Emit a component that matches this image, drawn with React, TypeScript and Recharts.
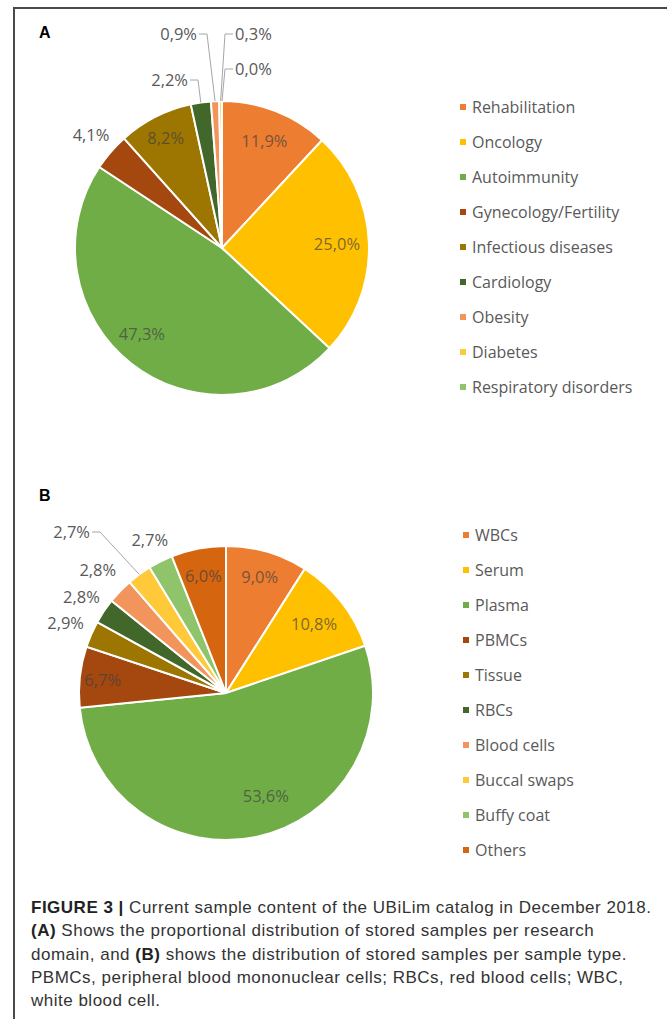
import React from "react";
import { Cell, Legend, Pie, PieChart } from "recharts";

// Panel A: stored samples per research domain (%)
const domainNames = [
  "Rehabilitation",
  "Oncology",
  "Autoimmunity",
  "Gynecology/Fertility",
  "Infectious diseases",
  "Cardiology",
  "Obesity",
  "Diabetes",
  "Respiratory disorders",
];
const domainShares = [11.9, 25.0, 47.3, 4.1, 8.2, 2.2, 0.9, 0.3, 0.0];

// Panel B: stored samples per sample type (%)
const sampleTypes = [
  "WBCs",
  "Serum",
  "Plasma",
  "PBMCs",
  "Tissue",
  "RBCs",
  "Blood cells",
  "Buccal swaps",
  "Buffy coat",
  "Others",
];
const sampleShares = [9.0, 10.8, 53.6, 6.7, 2.9, 2.8, 2.8, 2.7, 2.7, 6.0];

const domainColors = [
  "#ED7D31",
  "#FFC000",
  "#70AD47",
  "#A4480F",
  "#9C7600",
  "#41682A",
  "#F1955C",
  "#FFC93A",
  "#8FC46A",
];
const sampleColors = [
  "#ED7D31",
  "#FFC000",
  "#70AD47",
  "#A4480F",
  "#9C7600",
  "#41682A",
  "#F1955C",
  "#FFC93A",
  "#8FC46A",
  "#D6650F",
];

type LabelSpot =
  | { kind: "inside"; r: number; shift?: number }
  | { kind: "outside"; r: number }
  | { kind: "leader"; dx: number; dy: number; side: "left" | "right" };

const domainSpots: LabelSpot[] = [
  { kind: "inside", r: 116 },
  { kind: "inside", r: 115 },
  { kind: "inside", r: 117, shift: 5 },
  { kind: "outside", r: 173 },
  { kind: "inside", r: 124 },
  { kind: "leader", dx: -34, dy: -169, side: "left" },
  { kind: "leader", dx: -25, dy: -215, side: "left" },
  { kind: "leader", dx: 13, dy: -215, side: "right" },
  { kind: "leader", dx: 13, dy: -180, side: "right" },
];

const sampleSpots: LabelSpot[] = [
  { kind: "inside", r: 121 },
  { kind: "inside", r: 112 },
  { kind: "inside", r: 110, shift: -9 },
  { kind: "inside", r: 124 },
  { kind: "outside", r: 175 },
  { kind: "outside", r: 174 },
  { kind: "outside", r: 178 },
  { kind: "leader", dx: -136, dy: -162, side: "left" },
  { kind: "outside", r: 171 },
  { kind: "inside", r: 120 },
];

const RAD = Math.PI / 180;
const LABEL_FONT = "'Open Sans', 'Liberation Sans', sans-serif";
const LABEL_SIZE = 16.5;

const fmt = (v: number) => v.toFixed(1).replace(".", ",") + "%";

function makeLabel(spots: LabelSpot[]) {
  return (props: any) => {
    const { cx, cy, midAngle, outerRadius, index, value } = props;
    const spot = spots[index];
    const text = fmt(Number(value));
    if (spot.kind === "leader") {
      const ex = cx + outerRadius * Math.cos(-midAngle * RAD);
      const ey = cy + outerRadius * Math.sin(-midAngle * RAD);
      const tx = cx + spot.dx;
      const ty = cy + spot.dy;
      const dir = spot.side === "left" ? 1 : -1;
      const pts = `${ex},${ey} ${tx + dir * 10},${ty + 1} ${tx + dir * 2},${ty + 1}`;
      return (
        <g key={`lbl-${index}`}>
          <polyline points={pts} fill="none" stroke="#A6A6A6" strokeWidth={1} />
          <text
            x={tx}
            y={ty}
            textAnchor={spot.side === "left" ? "end" : "start"}
            dominantBaseline="central"
            fontFamily={LABEL_FONT}
            fontSize={LABEL_SIZE}
            fill="#595959"
          >
            {text}
          </text>
        </g>
      );
    }
    const ang = spot.kind === "inside" ? midAngle - (spot.shift ?? 0) : midAngle;
    const x = cx + spot.r * Math.cos(-ang * RAD);
    const y = cy + spot.r * Math.sin(-ang * RAD);
    return (
      <text
        key={`lbl-${index}`}
        x={x}
        y={y}
        textAnchor="middle"
        dominantBaseline="central"
        fontFamily={LABEL_FONT}
        fontSize={LABEL_SIZE}
        fill={spot.kind === "inside" ? "#404040" : "#595959"}
        fillOpacity={spot.kind === "inside" ? 0.7 : 1}
      >
        {text}
      </text>
    );
  };
}

// legend keeps the slice order (Recharts would sort it by name otherwise)
function makeLegend(names: string[], colors: string[]) {
  return () => (
    <div style={{ fontFamily: LABEL_FONT, fontSize: 16, color: "#595959" }}>
      {names.map((name, i) => (
        <div
          key={name}
          style={{ display: "flex", alignItems: "center", height: 35, whiteSpace: "nowrap" }}
        >
          <span
            style={{
              display: "inline-block",
              width: 6,
              height: 6,
              background: colors[i],
              marginRight: 6,
            }}
          />
          {name}
        </div>
      ))}
    </div>
  );
}

interface PanelProps {
  names: string[];
  shares: number[];
  colors: string[];
  spots: LabelSpot[];
  cx: number;
  cy: number;
  height: number;
  legendTop: number;
  legendLeft: number;
}

function PiePanel({ names, shares, colors, spots, cx, cy, height, legendTop, legendLeft }: PanelProps) {
  const data = names.map((name, i) => ({ name, value: shares[i], fill: colors[i] }));
  return (
    <PieChart width={667} height={height} margin={{ top: 0, right: 0, bottom: 0, left: 0 }}>
      <Pie
        data={data}
        dataKey="value"
        nameKey="name"
        cx={cx}
        cy={cy}
        outerRadius={147}
        startAngle={90}
        endAngle={-270}
        stroke="#ffffff"
        strokeWidth={2}
        label={makeLabel(spots)}
        labelLine={false}
        isAnimationActive={false}
      >
        {data.map((d) => (
          <Cell key={d.name} fill={d.fill} />
        ))}
      </Pie>
      <Legend
        layout="vertical"
        content={makeLegend(names, colors)}
        wrapperStyle={{ position: "absolute", top: legendTop, left: legendLeft, width: 200 }}
      />
    </PieChart>
  );
}

export default function App() {
  return (
    <div
      style={{
        position: "absolute",
        top: 0,
        left: 0,
        width: 667,
        height: 1019,
        background: "#ffffff",
        overflow: "hidden",
      }}
    >
      {/* figure frame: top and left rules */}
      <div style={{ position: "absolute", left: 14, top: 7, width: 653, height: 2, background: "#4a4a4a" }} />
      <div style={{ position: "absolute", left: 13, top: 7, width: 2, height: 1012, background: "#4a4a4a" }} />

      <div
        style={{
          position: "absolute",
          left: 39,
          top: 24,
          fontFamily: "'Liberation Sans', Arial, sans-serif",
          fontWeight: 700,
          fontSize: 16,
        }}
      >
        A
      </div>
      <div
        style={{
          position: "absolute",
          left: 39,
          top: 487,
          fontFamily: "'Liberation Sans', Arial, sans-serif",
          fontWeight: 700,
          fontSize: 16,
        }}
      >
        B
      </div>

      <div style={{ position: "absolute", left: 0, top: 0 }}>
        <PiePanel
          names={domainNames}
          shares={domainShares}
          colors={domainColors}
          spots={domainSpots}
          cx={222}
          cy={248}
          height={440}
          legendTop={89}
          legendLeft={460}
        />
      </div>
      <div style={{ position: "absolute", left: 0, top: 440 }}>
        <PiePanel
          names={sampleTypes}
          shares={sampleShares}
          colors={sampleColors}
          spots={sampleSpots}
          cx={226}
          cy={253}
          height={440}
          legendTop={77}
          legendLeft={463}
        />
      </div>

      <div
        style={{
          position: "absolute",
          left: 31,
          top: 896,
          fontFamily: "'Liberation Sans', Arial, sans-serif",
          fontSize: 17,
          letterSpacing: 0.5,
          lineHeight: "23.3px",
          color: "#333333",
          whiteSpace: "nowrap",
        }}
      >
        <b style={{ color: "#222" }}>FIGURE 3 |</b> Current sample content of the UBiLim catalog in December 2018.
        <br />
        <b style={{ color: "#222" }}>(A)</b> Shows the proportional distribution of stored samples per research
        <br />
        domain, and <b style={{ color: "#222" }}>(B)</b> shows the distribution of stored samples per sample type.
        <br />
        PBMCs, peripheral blood mononuclear cells; RBCs, red blood cells; WBC,
        <br />
        white blood cell.
      </div>
    </div>
  );
}
